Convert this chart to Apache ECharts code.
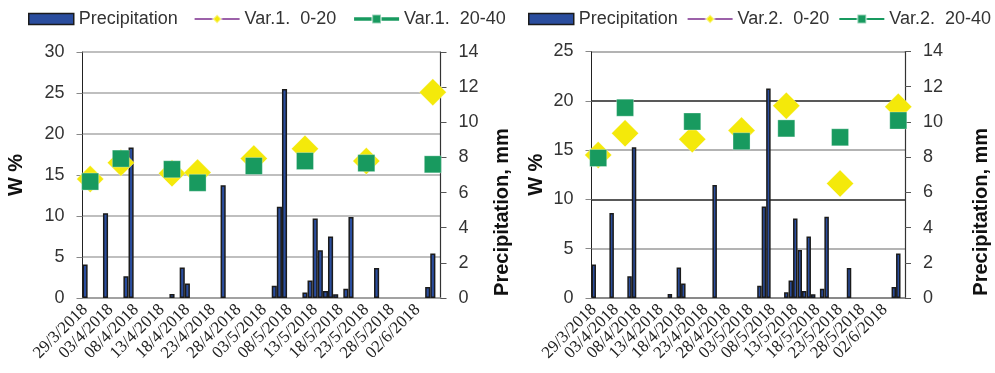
<!DOCTYPE html>
<html lang="en">
<head>
<meta charset="UTF-8">
<title>Soil moisture and precipitation</title>
<style>
  html, body { margin: 0; padding: 0; background: #fff; }
  #main { width: 995px; height: 373px; }
</style>
</head>
<body>
<div id="main"></div>
<script src="https://cdn.jsdelivr.net/npm/echarts@6/dist/echarts.min.js"></script>
<script>
// axis runs day by day from 29/3/2018, 70 days, a label every 5 days
var firstDay = [2018, 3, 29];
var dayCount = 70;
var tickLabels = ['29/3/2018', '03/4/2018', '08/4/2018', '13/4/2018', '18/4/2018', '23/4/2018', '28/4/2018',
                  '03/5/2018', '08/5/2018', '13/5/2018', '18/5/2018', '23/5/2018', '28/5/2018', '02/6/2018'];

// precipitation, mm (same rain record on both panels)
var rainDates = ['29/3/2018', '02/4/2018', '06/4/2018', '07/4/2018', '15/4/2018', '17/4/2018', '18/4/2018',
                 '25/4/2018', '05/5/2018', '06/5/2018', '07/5/2018', '11/5/2018', '12/5/2018', '13/5/2018',
                 '14/5/2018', '15/5/2018', '16/5/2018', '17/5/2018', '19/5/2018', '20/5/2018', '25/5/2018',
                 '04/6/2018', '05/6/2018'];
var rainMm = [1.9, 4.83, 1.24, 8.56, 0.23, 1.73, 0.82,
              6.42, 0.7, 5.2, 11.9, 0.32, 1.0, 4.52,
              2.72, 0.4, 3.5, 0.21, 0.53, 4.61, 1.71,
              0.63, 2.53];

// soil moisture W %, variant 1
var var1Dates = ['30/3/2018', '05/4/2018', '15/4/2018', '20/4/2018', '01/5/2018', '11/5/2018', '23/5/2018', '05/6/2018'];
var var1Top = [14.5, 16.5, 15.2, 15.3, 17.0, 18.2, 16.7, 25.1];   // 0-20
var var1Sub = [14.2, 17.0, 15.7, 14.05, 16.1, 16.7, 16.45, 16.3]; // 20-40

// soil moisture W %, variant 2
var var2Dates = ['30/3/2018', '05/4/2018', '20/4/2018', '01/5/2018', '11/5/2018', '23/5/2018', '05/6/2018'];
var var2Top = [14.5, 16.7, 16.1, 17.0, 19.5, 11.6, 19.4];
var var2Sub = [14.2, 19.3, 17.9, 15.9, 17.2, 16.3, 18.0];

var days = [];
for (var i = 0; i < dayCount; i++) {
  var d = new Date(firstDay[0], firstDay[1] - 1, firstDay[2] + i);
  var dd = d.getDate() < 10 ? '0' + d.getDate() : '' + d.getDate();
  days.push(dd + '/' + (d.getMonth() + 1) + '/' + d.getFullYear());
}

function pairs(names, vals) {
  return names.map(function (n, i) { return [n, vals[i]]; });
}

var BLUE = '#2a4d9e', YELLOW = '#f4e90a', GREEN = '#189a5f', PURPLE = '#7b2d8c';
var labelFont = 'Liberation Sans';

function xAxisFor(gi) {
  return {
    type: 'category', gridIndex: gi, data: days, boundaryGap: true,
    axisLine: { lineStyle: { color: '#999', width: 1.5 } },
    axisTick: { interval: 4, length: 5, lineStyle: { color: '#888', width: 1 } },
    axisLabel: {
      // every category gets a label slot, only the 5-day ones get text
      interval: 0, rotate: 45, margin: 9, color: '#222',
      fontFamily: 'Liberation Serif', fontSize: 17,
      formatter: function (v) { return tickLabels.indexOf(v) >= 0 ? v : ''; }
    },
    splitLine: { show: false }
  };
}

function leftAxis(gi, max, gap, gridColor) {
  return {
    type: 'value', gridIndex: gi, position: 'left', min: 0, max: max, interval: 5,
    name: 'W %', nameLocation: 'middle', nameGap: gap, nameRotate: 90,
    nameTextStyle: { fontFamily: labelFont, fontWeight: 'bold', fontSize: 20, color: '#111' },
    axisLine: { show: true, lineStyle: { color: '#222', width: 1 } },
    axisTick: { show: true, length: 6, lineStyle: { color: '#888' } },
    axisLabel: { margin: 18, color: '#333', fontFamily: labelFont, fontSize: 18 },
    splitLine: { show: true, lineStyle: { color: gridColor, width: 1.5 } }
  };
}

function rightAxis(gi, gap) {
  return {
    type: 'value', gridIndex: gi, position: 'right', min: 0, max: 14, interval: 2,
    name: 'Precipitation, mm', nameLocation: 'middle', nameGap: gap, nameRotate: 90,
    nameTextStyle: { fontFamily: labelFont, fontWeight: 'bold', fontSize: 20, color: '#111', padding: [0, 74, 0, 0] },
    axisLine: { show: true, lineStyle: { color: '#333', width: 1.2 } },
    axisTick: { show: true, length: 6, lineStyle: { color: '#555' } },
    axisLabel: { margin: 18, color: '#333', fontFamily: labelFont, fontSize: 18 },
    splitLine: { show: false }
  };
}

function rainSeries(xi, yi) {
  return {
    name: 'Precipitation', type: 'bar', xAxisIndex: xi, yAxisIndex: yi,
    barCategoryGap: '0%', data: pairs(rainDates, rainMm),
    itemStyle: { color: BLUE, borderColor: '#1b1b1b', borderWidth: 1.5 }
  };
}

function markSeries(name, xi, yi, names, vals, top) {
  return {
    name: name, type: 'line', xAxisIndex: xi, yAxisIndex: yi,
    data: pairs(names, vals),
    showAllSymbol: true,
    symbol: top ? 'diamond' : 'rect',
    symbolSize: top ? [27, 27] : [17, 17],
    lineStyle: { width: 0, opacity: 0 },
    itemStyle: { color: top ? YELLOW : GREEN, borderColor: 'rgba(255,255,255,0.5)', borderWidth: 0.6 }
  };
}

function legendFor(left, gap, n1, n2, greenW) {
  return {
    left: left, top: 10, padding: 0, itemWidth: 45, itemHeight: 11, itemGap: gap,
    textStyle: { fontFamily: labelFont, fontSize: 18, color: '#333' },
    data: [
      { name: 'Precipitation', icon: 'rect', itemStyle: { color: BLUE, borderColor: '#1b1b1b', borderWidth: 1.5 } },
      { name: n1, itemStyle: { color: YELLOW }, lineStyle: { color: PURPLE, width: 1.6, opacity: 1 } },
      { name: n2, itemStyle: { color: GREEN }, lineStyle: { color: GREEN, width: greenW, opacity: 1 } }
    ]
  };
}

var chart = echarts.init(document.getElementById('main'));
chart.setOption({
  animation: false,
  backgroundColor: '#fff',
  legend: [
    legendFor(28, 16, 'Var.1.  0-20', 'Var.1.  20-40', 3.5),
    legendFor(528, 9, 'Var.2.  0-20', 'Var.2.  20-40', 2)
  ],
  grid: [
    { left: 82.5, top: 52, width: 358, height: 246 },
    { left: 591.5, top: 51.5, width: 313.5, height: 246.5 }
  ],
  xAxis: [xAxisFor(0), xAxisFor(1)],
  yAxis: [
    leftAxis(0, 30, 56, '#aaa'),
    rightAxis(0, 52),
    leftAxis(1, 25, 45, ['#222', '#9a9a9a']),
    rightAxis(1, 66)
  ],
  series: [
    rainSeries(0, 1),
    markSeries('Var.1.  0-20', 0, 0, var1Dates, var1Top, true),
    markSeries('Var.1.  20-40', 0, 0, var1Dates, var1Sub, false),
    rainSeries(1, 3),
    markSeries('Var.2.  0-20', 1, 2, var2Dates, var2Top, true),
    markSeries('Var.2.  20-40', 1, 2, var2Dates, var2Sub, false)
  ]
});
</script>
</body>
</html>
